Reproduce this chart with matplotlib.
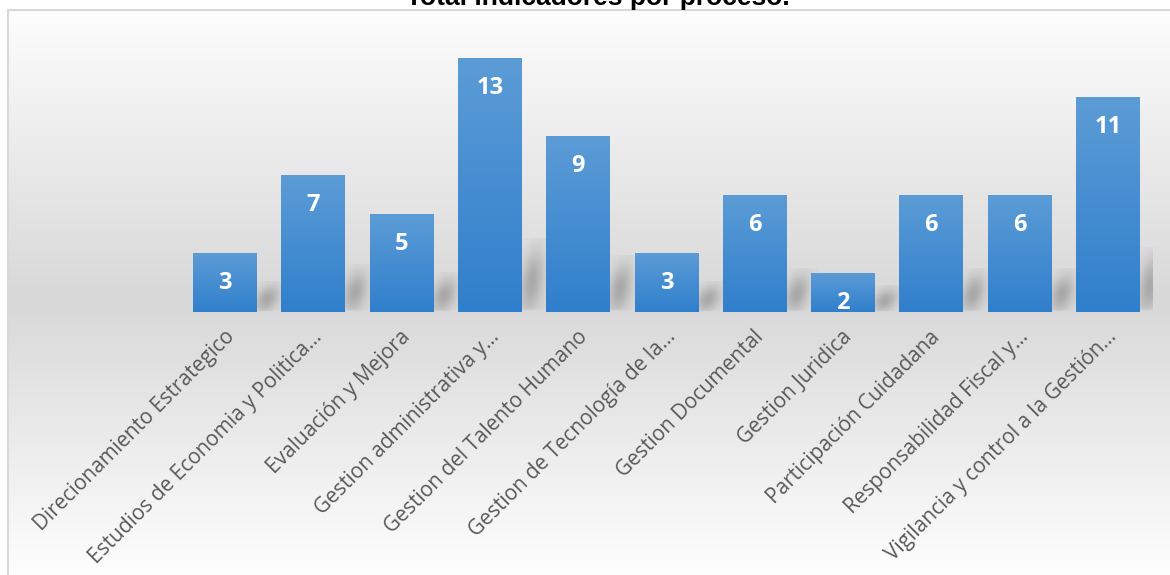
import numpy as np
import matplotlib
matplotlib.use("Agg")
import matplotlib.pyplot as plt
from matplotlib.patches import Rectangle
from matplotlib.transforms import ScaledTranslation

categories = ["Direcionamiento Estrategico", "Estudios de Economia y Politica...",
              "Evaluación y Mejora", "Gestion administrativa y...",
              "Gestion del Talento Humano", "Gestion de Tecnología de la...",
              "Gestion Documental", "Gestion Juridica", "Participación Cuidadana",
              "Responsabilidad Fiscal y...", "Vigilancia y control a la Gestión..."]
values = [3, 7, 5, 13, 9, 3, 6, 2, 6, 6, 11]
title = "Total indicadores por proceso."

W, H = 1170, 575
DPI = 100
fig = plt.figure(figsize=(W / DPI, H / DPI), dpi=DPI)

# background gradient + border
bg = fig.add_axes([0, 0, 1, 1], zorder=0)
rows = np.arange(H)
g = np.interp(rows, [0, 10, 300, 575], [254, 253, 216, 254]) / 255
img = np.repeat(g[:, None], 2, axis=1)
bg.imshow(np.dstack([img, img, img]), aspect='auto', extent=[0, W, H, 0], interpolation='bilinear')
bg.add_patch(Rectangle((0, 0), W, 10, color='white', lw=0))
bg.add_patch(Rectangle((0, 0), 8, H, color='white', lw=0))
bg.plot([8, W], [10, 10], color='#d9d9d9', lw=1.5)
bg.plot([8, 8], [10, H], color='#d9d9d9', lw=1.5)
bg.set_xlim(0, W)
bg.set_ylim(H, 0)
bg.axis('off')

# title (partially clipped at top as in reference)
fig.text(598 / W, 1 - 5 / H, title, ha='center', va='baseline', fontsize=19,
         fontweight='bold', family='Liberation Sans', color='black')

# main axes
left, right, base, top = 181, 1152, 312, 38.5
ax = fig.add_axes([left / W, 1 - base / H, (right - left) / W, (base - top) / H], zorder=1)
ax.patch.set_alpha(0)
ymax = 14
n = len(values)
for s in ax.spines.values():
    s.set_visible(False)
ax.set_xticks([])
ax.set_yticks([])

bw = 0.725
top_c = np.array([0x5c, 0x9c, 0xd6]) / 255
bot_c = np.array([0x30, 0x7f, 0xcc]) / 255
t = np.linspace(0, 1, 100)[:, None]
grad = (top_c[None, None, :] * (1 - t[:, :, None]) + bot_c[None, None, :] * t[:, :, None])
grad = np.repeat(grad, 2, axis=1)

# shadow texture: soft slanted blob, rows from top (row 0) to baseline
N = 80
sx = np.linspace(0, 1, N)
sy = np.linspace(1, 0, N)          # 1 at top row, 0 at baseline
SX, SY = np.meshgrid(sx, sy)
center = 0.2 + 0.3 * SY
alpha_sh = 0.38 * np.exp(-((SX - center) ** 2) / (2 * 0.26 ** 2))
alpha_sh *= np.exp(-((SY - 0.42) ** 2) / (2 * 0.3 ** 2))
alpha_sh *= np.clip(SY / 0.05, 0, 1)
sh = np.zeros((N, N, 4))
sh[..., :3] = 0.35
sh[..., 3] = np.clip(alpha_sh, 0, 1)

for i, v in enumerate(values):
    x0 = i - bw / 2
    hsh = 0.22 * v + 0.9
    ax.imshow(sh, extent=[x0 + bw, x0 + bw + 0.34, 0, hsh], aspect='auto',
              interpolation='bilinear', zorder=1)
    rect = Rectangle((x0, 0), bw, v, facecolor='none', edgecolor='none')
    ax.add_patch(rect)
    im = ax.imshow(grad, extent=[x0, x0 + bw, 0, v], aspect='auto', zorder=2,
                   interpolation='bilinear')
    im.set_clip_path(rect)
    ax.text(i, v, str(v), ha='center', va='center', color='white', fontsize=17,
            fontweight='bold', family='Open Sans', zorder=3,
            transform=ax.transData + ScaledTranslation(0, -30 / DPI, fig.dpi_scale_trans))

ax.set_ylim(0, ymax)
ax.set_xlim(-0.5, n - 0.5)

# category labels
for i, c in enumerate(categories):
    tr = ax.get_xaxis_transform() + ScaledTranslation(6 / DPI, -22 / DPI, fig.dpi_scale_trans)
    ax.text(i, 0, c, rotation=45, rotation_mode='anchor', ha='right', va='center',
            fontsize=15, family='Open Sans', color='#595959', transform=tr, clip_on=False)

fig.savefig('out.png', dpi=DPI)
